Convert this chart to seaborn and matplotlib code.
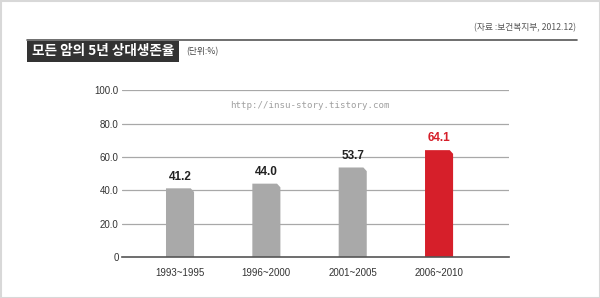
import matplotlib
matplotlib.use("Agg")
import matplotlib.pyplot as plt
import seaborn as sns
import pandas as pd
from matplotlib.patches import Polygon, Rectangle
from matplotlib.lines import Line2D

categories = ["1993~1995", "1996~2000", "2001~2005", "2006~2010"]
values = [41.2, 44.0, 53.7, 64.1]
value_labels = ["41.2", "44.0", "53.7", "64.1"]
y_ticks = [0, 20, 40, 60, 80, 100]
y_tick_labels = ["0", "20.0", "40.0", "60.0", "80.0", "100.0"]
title = "모든 암의 5년 상대생존율"
unit = "(단위:%)"
source = "(자료 :보건복지부, 2012.12)"
watermark = "http://insu-story.tistory.com"

GRAY = "#a9a9a9"
RED = "#d61f2a"
colors = [GRAY, GRAY, GRAY, RED]
label_colors = ["#222222", "#222222", "#222222", RED]

sns.set_theme(style="white")
plt.rcParams["font.family"] = ["Noto Sans CJK KR", "DejaVu Sans"]

df = pd.DataFrame({"period": categories, "rate": values})

fig = plt.figure(figsize=(6.0, 2.98), dpi=100)
fig.patch.set_facecolor("white")
W, H = 600, 298

ax = fig.add_axes([122 / W, 1 - 257 / H, (509 - 122) / W, (257 - 90.3) / H])
sns.barplot(data=df, x="period", y="rate", hue="period", palette=colors,
            width=0.325, legend=False, ax=ax, saturation=1, zorder=3)

# chamfer the top-right corner of each bar
bars = list(ax.patches)
for p, c in zip(bars, colors):
    x0, y0 = p.get_x(), p.get_y()
    w, h = p.get_width(), p.get_height()
    cx = w * 0.12
    cy = 2.2
    poly = Polygon([(x0, y0), (x0, y0 + h), (x0 + w - cx, y0 + h),
                    (x0 + w, y0 + h - cy), (x0 + w, y0)],
                   closed=True, facecolor=c, edgecolor="none", zorder=3)
    ax.add_patch(poly)
    p.remove()

ax.set_xlim(-0.672, 3.81)
ax.set_ylim(0, 100)
ax.set_yticks(y_ticks)
ax.set_yticklabels(y_tick_labels, fontsize=7, color="#333333",
                   family=["Liberation Sans", "DejaVu Sans"])
ax.set_xticks(range(len(categories)))
ax.set_xticklabels(categories, fontsize=7, color="#333333",
                   family=["Liberation Sans", "DejaVu Sans"])
ax.tick_params(axis="y", length=0, pad=2.5)
ax.tick_params(axis="x", length=0, pad=8)
ax.set_xlabel("")
ax.set_ylabel("")
for s in ["top", "right", "left"]:
    ax.spines[s].set_visible(False)
ax.spines["bottom"].set_color("#555555")
ax.spines["bottom"].set_linewidth(1.2)
ax.spines["bottom"].set_zorder(5)
for t in y_ticks[1:]:
    ax.axhline(t, color="#a8a8a8", lw=0.9, zorder=1)

for i, (v, lab, lc) in enumerate(zip(values, value_labels, label_colors)):
    ax.annotate(lab, (i, v), xytext=(0, 8.5), textcoords="offset points",
                ha="center", va="center", fontsize=8.5, fontweight="bold",
                color=lc, family=["Liberation Sans", "DejaVu Sans"])

# header decorations
fig.add_artist(Line2D([27 / W, 577 / W], [1 - 40 / H, 1 - 40 / H],
                      color="#555555", lw=1.2, transform=fig.transFigure))
fig.add_artist(Rectangle((27 / W, 1 - 62 / H), (179 - 27) / W, (62 - 41) / H,
                         transform=fig.transFigure, facecolor="#333333",
                         edgecolor="none"))
fig.text(103 / W, 1 - 51.5 / H, title, color="white", fontsize=9.8,
         fontweight="bold", ha="center", va="center")
fig.text(186 / W, 1 - 52 / H, unit, color="#444444", fontsize=6.3,
         ha="left", va="center")
fig.text(576 / W, 1 - 28 / H, source, color="#555555", fontsize=6.3,
         ha="right", va="center")
fig.text(310 / W, 1 - 106 / H, watermark, color="#a0a0a0", fontsize=6.6,
         ha="center", va="center", family=["DejaVu Sans Mono"])

# frame
fig.add_artist(Rectangle((0.5 / W, 0.5 / H), 1 - 1 / W, 1 - 1 / H,
                         transform=fig.transFigure, facecolor="none",
                         edgecolor="#d8d8d8", lw=1.5))

fig.savefig("out.png", dpi=100, facecolor="white")
